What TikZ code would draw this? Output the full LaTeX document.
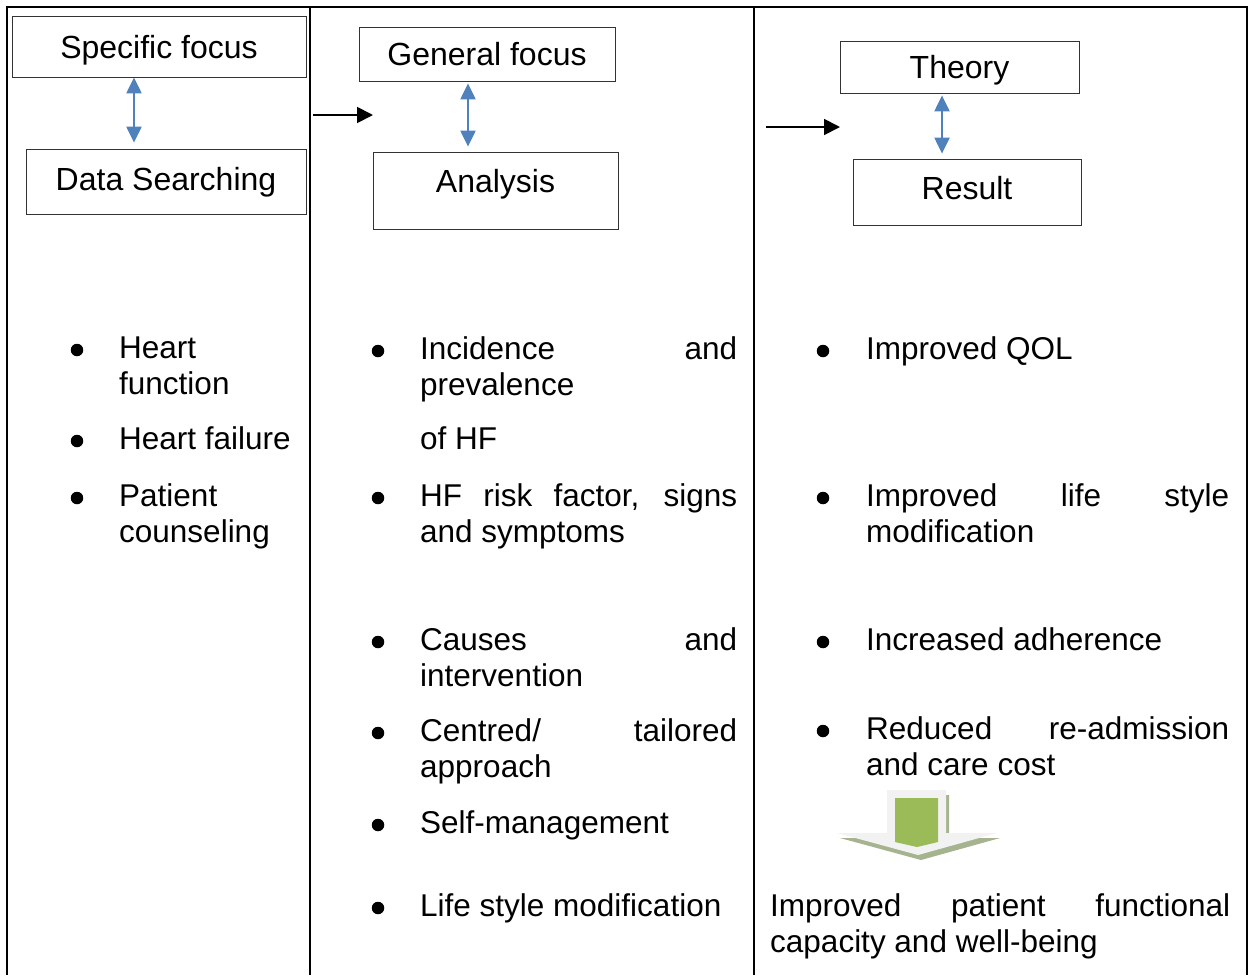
\documentclass[tikz,border=0pt]{standalone}
\usepackage{fontspec}
\setmainfont{Liberation Sans}
\usepackage{xcolor}
\usetikzlibrary{arrows.meta}
\definecolor{linkBlue}{HTML}{4F81BD}
\definecolor{leafGreen}{HTML}{9BBB59}
\definecolor{paleGrey}{HTML}{F2F2F2}
\definecolor{shadeGreen}{HTML}{A5B38E}
\newcommand{\bodyfont}{\fontsize{31.5}{36.8}\selectfont}
\newcommand{\boxfont}{\fontsize{32}{38}\selectfont}
\hyphenpenalty=10000 \exhyphenpenalty=10000
\tolerance=10000 \hbadness=10000

\begin{document}
\begin{tikzpicture}[
    x=1pt, y=-1pt,
    rule/.style={draw=black, line width=2pt},
    box/.style={draw=black!80, line width=0.8pt, inner sep=0pt, font=\boxfont,
                text height=23pt, text depth=0pt},
    swap/.style={draw=linkBlue, line width=2.2pt,
                 {Triangle[length=16pt,width=15pt]}-{Triangle[length=16pt,width=15pt]}},
    flow/.style={draw=black, line width=1.8pt, -{Triangle[length=16pt,width=16pt]}},
    txt/.style={anchor=base west, inner sep=0pt, align=justify, font=\bodyfont, text width=#1},
    bul/.style={circle, fill=black, inner sep=0pt, minimum size=12.5pt},
]
  \useasboundingbox (0,0) rectangle (1255,975);
  % table rules
  \draw[rule] (6.5,975) -- (6.5,6.5) -- (1246.5,6.5) -- (1246.5,975);
  \draw[rule] (310.3,6.5) -- (310.3,975);
  \draw[rule] (754.3,6.5) -- (754.3,975);
  % stage boxes
  \node[box, minimum width=294pt, minimum height=61pt] (sf) at (159,46.5) {Specific focus};
  \node[box, minimum width=280pt, minimum height=65pt, text depth=6pt] (ds) at (166,181.5) {Data Searching};
  \node[box, minimum width=256pt, minimum height=54pt] (gf) at (487,54) {General focus};
  \node[box, minimum width=245pt, minimum height=77pt, text depth=19pt] (an) at (495.5,190.5) {Analysis};
  \node[box, minimum width=239pt, minimum height=52pt] (th) at (959.5,67) {Theory};
  \node[box, minimum width=228pt, minimum height=66pt, text depth=9pt] (rs) at (967,192) {Result};
  % two-way links
  \draw[swap, shorten >=6pt] ([xshift=-25pt]sf.south) -- ([xshift=-25pt]sf.south |- ds.north);
  \draw[swap, shorten <=2pt, shorten >=5pt] ([xshift=-19pt]gf.south) -- ([xshift=-19pt]gf.south |- an.north);
  \draw[swap, shorten <=2pt, shorten >=5pt] ([xshift=-17.5pt]th.south) -- ([xshift=-17.5pt]th.south |- rs.north);
  % stage arrows
  \coordinate (f1a) at (313,115);
  \coordinate (f1b) at (373,115);
  \coordinate (f2a) at (766,127);
  \coordinate (f2b) at (840,127);
  \draw[flow] (f1a) -- (f1b);
  \draw[flow] (f2a) -- (f2b);
  % column 1
  \node[bul] (b11) at (77,350) {};
  \node[txt=176pt] (i11) at (119,358) {Heart\linebreak function};
  \node[bul] (b12) at (77,441) {};
  \node[txt=176pt] (i12) at (119,449) {Heart failure};
  \node[bul] (b13) at (77,498) {};
  \node[txt=176pt] (i13) at (119,506) {Patient\linebreak counseling};
  % column 2
  \node[bul] (b21) at (378,351) {};
  \node[txt=317pt] (i21) at (420,359) {Incidence and\linebreak prevalence};
  \node[txt=317pt] (i21b) at (420,449) {of HF};
  \node[bul] (b22) at (378,498) {};
  \node[txt=317pt] (i22) at (420,506) {HF risk factor, signs\linebreak and symptoms};
  \node[bul] (b23) at (378,642) {};
  \node[txt=317pt] (i23) at (420,650) {Causes and\linebreak intervention};
  \node[bul] (b24) at (378,733) {};
  \node[txt=317pt] (i24) at (420,741) {Centred/ tailored\linebreak approach};
  \node[bul] (b25) at (378,825) {};
  \node[txt=317pt] (i25) at (420,833) {Self-management};
  \node[bul] (b26) at (378,908) {};
  \node[txt=317pt] (i26) at (420,916) {Life style modification};
  % column 3
  \node[bul] (b31) at (823,351) {};
  \node[txt=363pt] (i31) at (866,359) {Improved QOL};
  \node[bul] (b32) at (823,498) {};
  \node[txt=363pt] (i32) at (866,506) {Improved life style\linebreak modification};
  \node[bul] (b33) at (823,642) {};
  \node[txt=363pt] (i33) at (866,650) {Increased adherence};
  \node[bul] (b34) at (823,731) {};
  \node[txt=363pt] (i34) at (866,739) {Reduced re-admission\linebreak and care cost};
  % outcome arrow
  \fill[shadeGreen] (890,795) -- (949,795) -- (949,838) -- (1000,838) -- (921,860) -- (840,838) -- (890,838) -- cycle;
  \fill[paleGrey] (887,790) -- (946,790) -- (946,833) -- (997,833) -- (918,855) -- (837,833) -- (887,833) -- cycle;
  \fill[leafGreen] (895,798) -- (938,798) -- (938,842) -- (917,847) -- (895,842) -- cycle;
  \node[txt=460pt] (out) at (770,916) {Improved patient functional\linebreak capacity and well-being};
\end{tikzpicture}
\end{document}
